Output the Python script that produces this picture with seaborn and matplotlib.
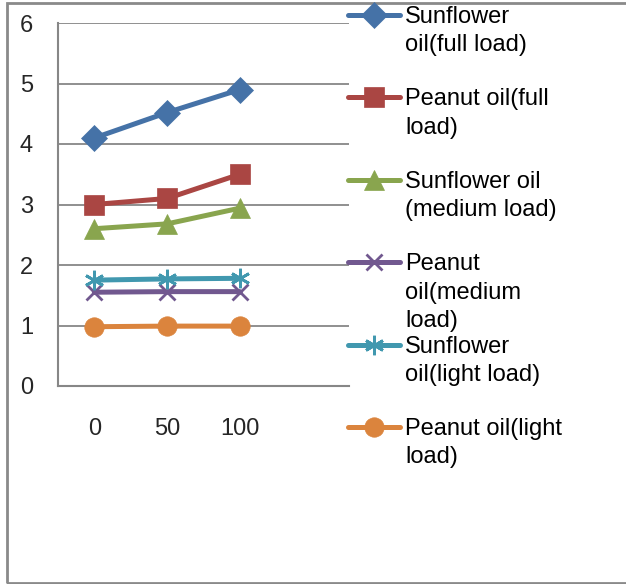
import matplotlib
matplotlib.use("Agg")
import matplotlib.pyplot as plt
import seaborn as sns
import pandas as pd
import numpy as np
from matplotlib.lines import Line2D
from matplotlib.patches import Rectangle

categories = ["0", "50", "100"]
series_names = [
    "Sunflower oil(full load)",
    "Peanut oil(full load)",
    "Sunflower oil (medium load)",
    "Peanut oil(medium load)",
    "Sunflower oil(light load)",
    "Peanut oil(light load)",
]
legend_labels = [
    "Sunflower\noil(full load)",
    "Peanut oil(full\nload)",
    "Sunflower oil\n(medium load)",
    "Peanut\noil(medium\nload)",
    "Sunflower\noil(light load)",
    "Peanut oil(light\nload)",
]
sunflower_full = [4.10, 4.52, 4.90]
peanut_full = [3.00, 3.10, 3.50]
sunflower_medium = [2.60, 2.68, 2.94]
peanut_medium = [1.55, 1.56, 1.56]
sunflower_light = [1.75, 1.77, 1.78]
peanut_light = [0.98, 0.99, 0.99]
all_values = [sunflower_full, peanut_full, sunflower_medium,
              peanut_medium, sunflower_light, peanut_light]
y_ticks = [0, 1, 2, 3, 4, 5, 6]

colors = ["#4572A7", "#AA4643", "#89A54E", "#71588F", "#4198AF", "#DB843D"]
asterisk = (6, 2, 0)
markers = ["D", "s", "^", "x", asterisk, "o"]
msizes = [13, 14, 14, 12, 14, 14]

rows = []
for name, vals in zip(series_names, all_values):
    for i, v in enumerate(vals):
        rows.append({"series": name, "pos": i, "value": v})
df = pd.DataFrame(rows)

sns.set_style("white")
plt.rcParams["font.family"] = ["Liberation Sans", "DejaVu Sans"]

W, H = 626, 584
fig = plt.figure(figsize=(W / 100, H / 100), dpi=100)
ax = fig.add_axes([58 / W, 1 - 386 / H, (349 - 58) / W, (386 - 23) / H])

for name, c, m, ms in zip(series_names, colors, markers, msizes):
    sub = df[df["series"] == name]
    sns.lineplot(data=sub, x="pos", y="value", ax=ax, color=c, linewidth=3.6,
                 marker=m, markersize=ms, markeredgecolor=c, markerfacecolor=c,
                 markeredgewidth=2.0 if m in ("x", asterisk) else 0.5,
                 legend=False, zorder=3)

ax.set_xlim(-0.5, 3.5)
ax.set_ylim(0, 6)
ax.set_yticks(y_ticks)
ax.set_yticklabels([str(t) for t in y_ticks], fontsize=17)
ax.set_xticks(range(len(categories)))
ax.set_xticklabels(categories, fontsize=17)
ax.set_xticks(np.arange(-0.5, 3.6, 1), minor=True)
ax.tick_params(axis="x", which="major", length=0, pad=23)
ax.tick_params(axis="x", which="minor", length=6, width=1.5, color="#878787", direction="out")
ax.tick_params(axis="y", length=6, width=1.5, color="#878787", direction="out", pad=12)
ax.set_xlabel("")
ax.set_ylabel("")
ax.grid(axis="y", color="#878787", linewidth=1.3, zorder=0)
ax.grid(axis="x", visible=False)
for s in ["top", "right"]:
    ax.spines[s].set_visible(False)
for s in ["left", "bottom"]:
    ax.spines[s].set_color("#878787")
    ax.spines[s].set_linewidth(1.5)

# chart border
fig.patches.append(Rectangle((7 / W, 1 - 583 / H), (W + 20 - 7) / W, (583 - 3) / H,
                             transform=fig.transFigure, fill=False,
                             edgecolor="#8a8a8a", linewidth=2.0, zorder=0))

# legend (manual, Excel-like spacing)
for i, (lab, c, m, ms) in enumerate(zip(legend_labels, colors, markers, msizes)):
    yc = 15 + 82.4 * i
    yf = 1 - yc / H
    fig.add_artist(Line2D([348 / W, 400 / W], [yf, yf], transform=fig.transFigure,
                          color=c, linewidth=3.6))
    fig.add_artist(Line2D([374 / W], [yf], transform=fig.transFigure, color=c,
                          marker=m, markersize=ms, markeredgecolor=c, markerfacecolor=c,
                          markeredgewidth=2.0 if m in ("x", asterisk) else 0.5,
                          linestyle="none"))
    fig.text(405 / W, 1 - (yc - 9) / H, lab, fontsize=17, va="top", ha="left",
             linespacing=1.38, color="black")

fig.savefig("out.png", dpi=100)
